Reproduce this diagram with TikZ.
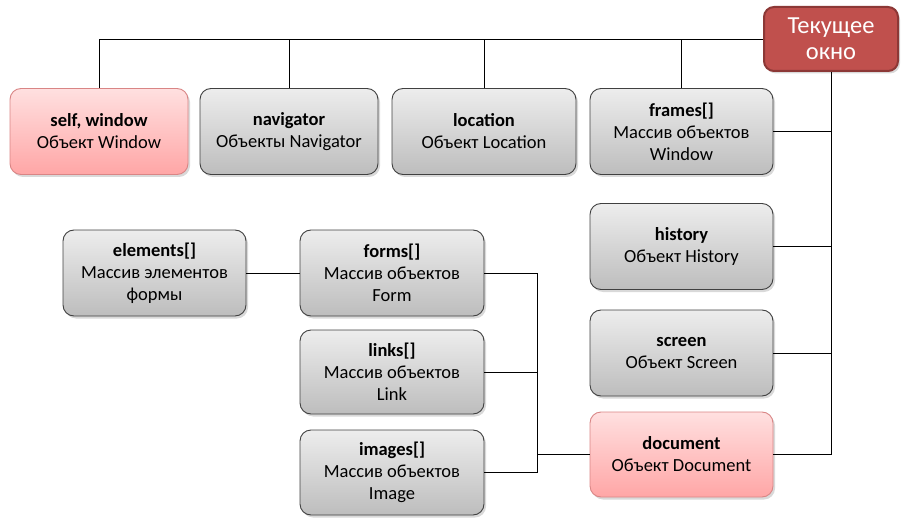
\documentclass[tikz,border=0pt]{standalone}
\usepackage{fontspec}
\setmainfont{Carlito}
\usepackage{xcolor}
\usetikzlibrary{positioning,shadows}

\definecolor{boxline}{HTML}{404040}
\definecolor{greytop}{HTML}{EDEDED}
\definecolor{greybot}{HTML}{BDBDBD}
\definecolor{pinktop}{HTML}{FFE0E0}
\definecolor{pinkbot}{HTML}{FFA6A6}
\definecolor{pinkline}{HTML}{D98585}
\definecolor{rootfill}{HTML}{C0504D}
\definecolor{rootline}{HTML}{8C3836}

\tikzset{
  obj/.style={draw=boxline, line width=0.9pt, rounded corners=11pt,
    top color=greytop, bottom color=greybot,
    minimum width=182pt, minimum height=86pt, align=center,
    font=\fontsize{18.5}{22}\selectfont,
    drop shadow={opacity=0.3, shadow xshift=2pt, shadow yshift=-2.5pt}},
  mainobj/.style={obj, draw=pinkline, top color=pinktop, bottom color=pinkbot},
  root/.style={draw=rootline, line width=2pt, rounded corners=10pt, fill=rootfill,
    text=white, minimum width=134pt, minimum height=64pt, align=center,
    font=\fontsize{24.5}{26}\selectfont,
    drop shadow={opacity=0.3, shadow xshift=2pt, shadow yshift=-2.5pt}},
  link/.style={draw=black, line width=0.8pt}
}

\begin{document}
\begin{tikzpicture}
		[x=1pt,y=1pt,node distance=100pt,on grid]
		\useasboundingbox (0,0) rectangle (907,523);
		\node[root] (win) at (831,484) {Текущее\\окно};
		% top row
		\node[mainobj, minimum width=178pt] (self) at (99,391.5) {\textbf{self, window}\\Объект Window};
		\node[obj, minimum width=178pt] (nav) [right=190pt of self] {\textbf{navigator}\\Объекты Navigator};
		\node[obj, minimum width=184pt] (loc) [right=195pt of nav] {\textbf{location}\\Объект Location};
		\node[obj, minimum width=183pt] (frames) [right=197.5pt of loc] {\textbf{frames[]}\\Массив объектов\\Window};
		% right column
		\node[obj, minimum width=183pt] (hist) [below=115pt of frames] {\textbf{history}\\Объект History};
		\node[obj, minimum width=183pt] (scr) [below=106.5pt of hist] {\textbf{screen}\\Объект Screen};
		\node[mainobj, minimum width=183pt, minimum height=85pt] (doc) [below=101.5pt of scr] {\textbf{document}\\Объект Document};
		% document parts
		\node[obj, minimum width=184pt] (forms) at (392,250) {\textbf{forms[]}\\Массив объектов\\Form};
		\node[obj, minimum width=183pt] (elems) [left=237.5pt of forms] {\textbf{elements[]}\\Массив элементов\\формы};
		\node[obj, minimum width=184pt, minimum height=84pt] (links) [below=99pt of forms] {\textbf{links[]}\\Массив объектов\\Link};
		\node[obj, minimum width=184pt, minimum height=85pt] (imgs) [below=100.5pt of links] {\textbf{images[]}\\Массив объектов\\Image};
		\coordinate[right=53pt of forms.east] (dbus);
		
		\path[link]
		(win.west) edge[to path={-| (\tikztotarget)}] (self.north)
		(nav.north) edge[to path={|- (\tikztotarget)}] (win.west)
		(loc.north) edge[to path={|- (\tikztotarget)}] (win.west)
		(frames.north) edge[to path={|- (\tikztotarget)}] (win.west)
		(win.south) edge[to path={|- (\tikztotarget)}] (doc.east)
		(frames.east) edge[to path={-| (\tikztotarget)}] (win.south)
		(hist.east) edge[to path={-| (\tikztotarget)}] (win.south)
		(scr.east) edge[to path={-| (\tikztotarget)}] (win.south)
		(elems.east) edge (forms.west)
		(forms.east) edge (dbus)
		(dbus) edge[to path={|- (\tikztotarget)}] (imgs.east)
		(links.east) edge (links.east -| dbus)
		(dbus |- doc.west) edge (doc.west)
		;
\end{tikzpicture}
\end{document}
